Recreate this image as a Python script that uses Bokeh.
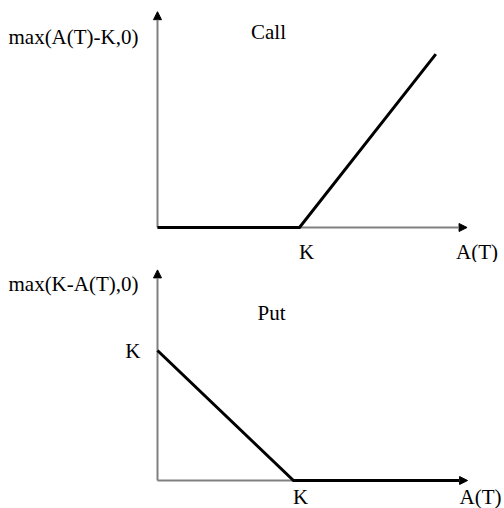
from bokeh.plotting import figure
from bokeh.layouts import column
from bokeh.models import Arrow, NormalHead, Label, Range1d, ColumnDataSource
from bokeh.embed import file_html
from bokeh.resources import INLINE

# ---------------- data ----------------
K = 1.0
call_A = [0.0, 1.0, 1.96]
call_payoff = [0.0, 0.0, 0.96]
call_axis_x_max = 2.18
call_axis_y_max = 1.195

put_A = [0.0, 1.0, 2.22]
put_payoff = [1.0, 0.0, 0.0]
put_axis_x_max = 2.28
put_axis_y_max = 1.62

call_ylabel = "max(A(T)-K,0)"
call_title = "Call"
put_ylabel = "max(K-A(T),0)"
put_title = "Put"
strike_label = "K"
x_label = "A(T)"

# ---------------- layout ----------------
W = 504
FONT = "Liberation Serif"
FS = "21px"
AXIS_COLOR = "#808080"


def make_panel(height, origin_px, ppu):
    ox, oy = origin_px
    sx, sy = ppu
    p = figure(width=W, height=height, output_backend="svg", toolbar_location=None,
               x_axis_location=None, y_axis_location=None, min_border=0,
               x_range=Range1d(-ox / sx, (W - ox) / sx),
               y_range=Range1d(-(height - oy) / sy, oy / sy))
    p.xgrid.visible = False
    p.ygrid.visible = False
    p.outline_line_color = None
    p.background_fill_color = "white"
    p.border_fill_color = "white"
    return p


def add_axes(p, xmax, ymax):
    for (x1, y1) in [(xmax, 0.0), (0.0, ymax)]:
        p.add_layout(Arrow(end=NormalHead(size=8, fill_color="black", line_color="black", line_width=1),
                           x_start=0.0, y_start=0.0, x_end=x1, y_end=y1,
                           line_color=AXIS_COLOR, line_width=2, level="underlay"))


def label(p, text, x, y, dx, dy, align="center"):
    p.add_layout(Label(x=x, y=y, x_offset=dx, y_offset=dy, text=text,
                       text_font=FONT, text_font_size=FS, text_color="black",
                       text_align=align, text_baseline="middle"))


# ---- Call panel ----
top = make_panel(262, (157, 227), (142, 180.6))
add_axes(top, call_axis_x_max, call_axis_y_max)
top.line(x="A", y="v", source=ColumnDataSource(dict(A=call_A, v=call_payoff)),
         line_color="black", line_width=3, line_join="miter")
label(top, call_ylabel, 0.0, call_axis_y_max, -19, -25, "right")
label(top, call_title, 0.0, call_axis_y_max, 111, -20)
label(top, strike_label, K, 0.0, 7, -24)
label(top, x_label, call_axis_x_max, 0.0, 10, -24)

# ---- Put panel ----
bot = make_panel(246, (157, 218), (136, 130))
add_axes(bot, put_axis_x_max, put_axis_y_max)
bot.line(x="A", y="v", source=ColumnDataSource(dict(A=put_A, v=put_payoff)),
         line_color="black", line_width=3, line_join="miter")
label(bot, put_ylabel, 0.0, put_axis_y_max, -19, -14, "right")
label(bot, put_title, 0.0, put_axis_y_max, 114, -43)
label(bot, strike_label, 0.0, K, -17, 0, "right")
label(bot, strike_label, K, 0.0, 7, -16)
label(bot, x_label, put_axis_x_max, 0.0, 13, -16)

layout = column(top, bot, spacing=0)
open("out.html", "w").write(file_html(layout, INLINE))
